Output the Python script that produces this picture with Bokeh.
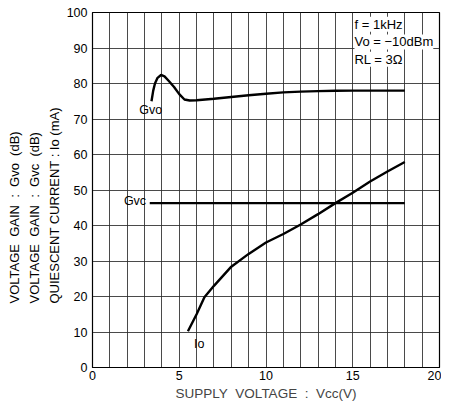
from bokeh.plotting import figure
from bokeh.models import Range1d, FixedTicker, Label, Title
from bokeh.embed import file_html
from bokeh.resources import INLINE

# ---- data ----
gvo_x = [3.4, 3.5, 3.6, 3.75, 3.95, 4.15, 4.4, 4.7, 5.0, 5.3, 5.6, 6, 7, 8, 9, 10, 11, 12, 13, 14, 15, 16, 17, 18]
gvo_y = [75.0, 78.0, 80.0, 81.6, 82.4, 82.0, 80.7, 79.0, 77.0, 75.5, 75.2, 75.3, 75.7, 76.2, 76.7, 77.1, 77.5, 77.7, 77.85, 77.95, 78.0, 78.0, 78.0, 78.0]

gvc_x = [3.3, 18.0]
gvc_y = [46.3, 46.3]

io_x = [5.5, 6.0, 6.45, 7, 8, 9, 10, 11, 12, 13, 14, 15, 16, 17, 18]
io_y = [10.2, 15.0, 19.8, 23.0, 28.4, 32.0, 35.2, 37.6, 40.3, 43.2, 46.3, 49.2, 52.4, 55.2, 57.9]

x_ticks = [0, 5, 10, 15, 20]
x_grid = list(range(0, 21))
y_ticks = list(range(0, 101, 10))

S = "\u00a0\u00a0"
y_titles = ["VOLTAGE" + S + "GAIN" + S + ":" + S + "Gvo" + S + "(dB)",
            "VOLTAGE" + S + "GAIN" + S + ":" + S + "Gvc" + S + "(dB)",
            "QUIESCENT CURRENT : Io (mA)"]
x_title = "SUPPLY" + S + "VOLTAGE" + S + ":" + S + "Vcc(V)"
cond_texts = ["f = 1kHz", "Vo = −10dBm", "RL = 3Ω"]

FONT = "Liberation Sans"

p = figure(width=441, height=403, output_backend="svg", toolbar_location=None,
           x_range=Range1d(0, 20), y_range=Range1d(0, 100),
           min_border_left=92, min_border_right=2, min_border_top=12, min_border_bottom=34)

p.background_fill_color = "white"
p.border_fill_color = "white"
p.outline_line_color = "black"
p.outline_line_width = 1.2

p.xaxis.ticker = FixedTicker(ticks=x_ticks)
p.yaxis.ticker = FixedTicker(ticks=y_ticks)
p.xgrid.ticker = FixedTicker(ticks=x_grid)
for g in (p.xgrid, p.ygrid):
    g.grid_line_color = "#2a2a2a"
    g.grid_line_width = 1.0
    g.grid_line_alpha = 0.85

for ax in (p.xaxis, p.yaxis):
    ax.axis_line_color = "black"
    ax.major_tick_line_color = None
    ax.minor_tick_line_color = None
    ax.major_tick_out = 0
    ax.major_tick_in = 0
    ax.minor_tick_out = 0
    ax.minor_tick_in = 0
    ax.major_label_text_font = FONT
    ax.major_label_text_font_size = "12.5px"
    ax.major_label_text_color = "black"
    ax.major_label_standoff = 5

p.xaxis.axis_label = x_title
p.xaxis.axis_label_text_font = FONT
p.xaxis.axis_label_text_font_size = "13.5px"
p.xaxis.axis_label_text_font_style = "normal"
p.xaxis.axis_label_standoff = 3
p.xaxis.major_label_standoff = 3

# curves
p.line(gvo_x, gvo_y, line_color="black", line_width=2.4)
p.line(gvc_x, gvc_y, line_color="black", line_width=2.4)
p.line(io_x, io_y, line_color="black", line_width=2.4)

# curve labels
for txt, lx, ly in [("Gvo", 3.35, 72.5), ("Gvc", 2.45, 46.8), ("Io", 6.15, 6.6)]:
    p.add_layout(Label(x=lx, y=ly, text=txt, text_align="center", text_baseline="middle",
                       text_font=FONT, text_font_size="12.5px", text_color="black"))

# condition box texts
for txt, ly in zip(cond_texts, [96.7, 91.7, 86.8]):
    p.add_layout(Label(x=15.1, y=ly, text=txt, text_align="left", text_baseline="middle",
                       text_font=FONT, text_font_size="13px", text_color="black",
                       background_fill_color="white"))

# y titles: three rotated lines on the left, added nearest-first
for txt in reversed(y_titles):
    p.add_layout(Title(text=txt, align="left", offset=64, standoff=3,
                       text_font=FONT, text_font_size="13px", text_font_style="normal",
                       text_color="black"), "left")

open("out.html", "w").write(file_html(p, INLINE))
